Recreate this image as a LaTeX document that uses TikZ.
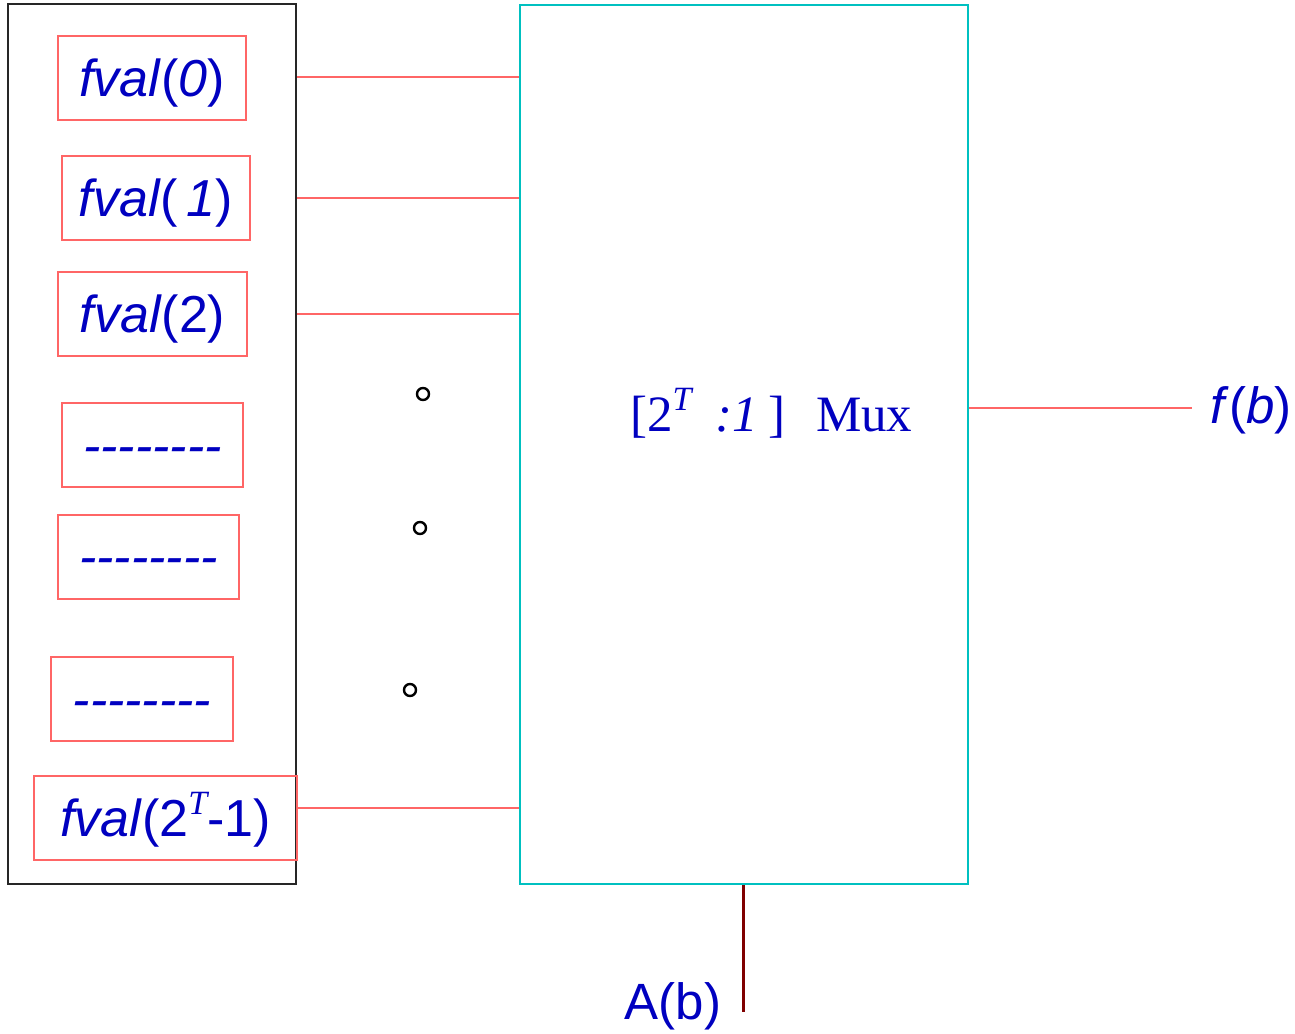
\documentclass[tikz,border=0pt]{standalone}
\usepackage{fontspec}
\newfontfamily\arialf{Liberation Sans}
\newfontfamily\timesf{Liberation Serif}
\definecolor{tblue}{RGB}{0,0,192}
\definecolor{tred}{RGB}{255,102,102}
\definecolor{tcyan}{RGB}{0,192,192}
\definecolor{tdark}{RGB}{128,0,0}
\newcommand{\supT}{\raisebox{0.42em}{\fontsize{34}{40}\selectfont\timesf\itshape T}}
\begin{document}
\begin{tikzpicture}[x=1pt,y=-1pt,
  valbox/.style={draw=tred,line width=2pt,inner sep=0pt,minimum height=84pt,text=tblue,text height=40pt,text depth=4pt,font=\arialf\fontsize{52}{60}\selectfont},
  wire/.style={draw=tred,line width=2pt},
  dotc/.style={draw=black,line width=2.4pt,fill=none}]
\useasboundingbox (0,0) rectangle (1295,1033);
\node[draw=black!85,line width=2pt,minimum width=288pt,minimum height=880pt,inner sep=0pt] (outer) at (152,444) {};
\node[draw=tcyan,line width=2pt,minimum width=448pt,minimum height=879pt,inner sep=0pt] (mux) at (744,444.5) {};
\node[valbox,minimum width=188pt] (b1) at (152,78) {\textit{fval}(\textit{0})};
\node[valbox,minimum width=188pt] (b2) at (156,198) {\textit{fval}(\textit{\,1})};
\node[valbox,minimum width=189pt] (b3) at (152.5,314) {\textit{fval}(2)};
\node[valbox,minimum width=181pt] (b4) at (152.5,445) {\textit{--------}};
\node[valbox,minimum width=181pt] (b5) at (148.5,556.5) {\textit{--------}};
\node[valbox,minimum width=182pt] (b6) at (142,699) {\textit{--------}};
\node[valbox,minimum width=263pt] (b7) at (165.5,818) {\textit{fval}(2\supT-1)};
\node[text=tblue,font=\timesf\fontsize{51}{56}\selectfont,inner sep=0pt,anchor=base west] (lbl) at (630,431) {[2\raisebox{0.4em}{\fontsize{34}{40}\selectfont\itshape T}\hspace{24pt}\textit{:1}\hspace{10pt}]\hspace{31pt}Mux};
\coordinate (oend) at (1192,408);
\node[text=tblue,font=\arialf\fontsize{51}{60}\selectfont,inner sep=0pt] (fb) at (1251,410) {\textit{f}(\textit{b})};
\coordinate (abot) at (743,1012);
\node[text=tblue,font=\arialf\fontsize{51}{60}\selectfont,inner sep=0pt] (ab) at (673,1006) {A(b)};
\draw[wire] (outer.east |- 0,77) -- (mux.west |- 0,77);
\draw[wire] (outer.east |- 0,198) -- (mux.west |- 0,198);
\draw[wire] (outer.east |- 0,314) -- (mux.west |- 0,314);
\draw[wire] (b7.east |- 0,808) -- (mux.west |- 0,808);
\draw[wire] (mux.east |- oend) -- (oend);
\draw[draw=tdark,line width=3pt] (mux.south -| abot) -- (abot);
\draw[dotc] (423,394) circle (6);
\draw[dotc] (420,528) circle (6);
\draw[dotc] (410,690) circle (6);
\end{tikzpicture}
\end{document}
